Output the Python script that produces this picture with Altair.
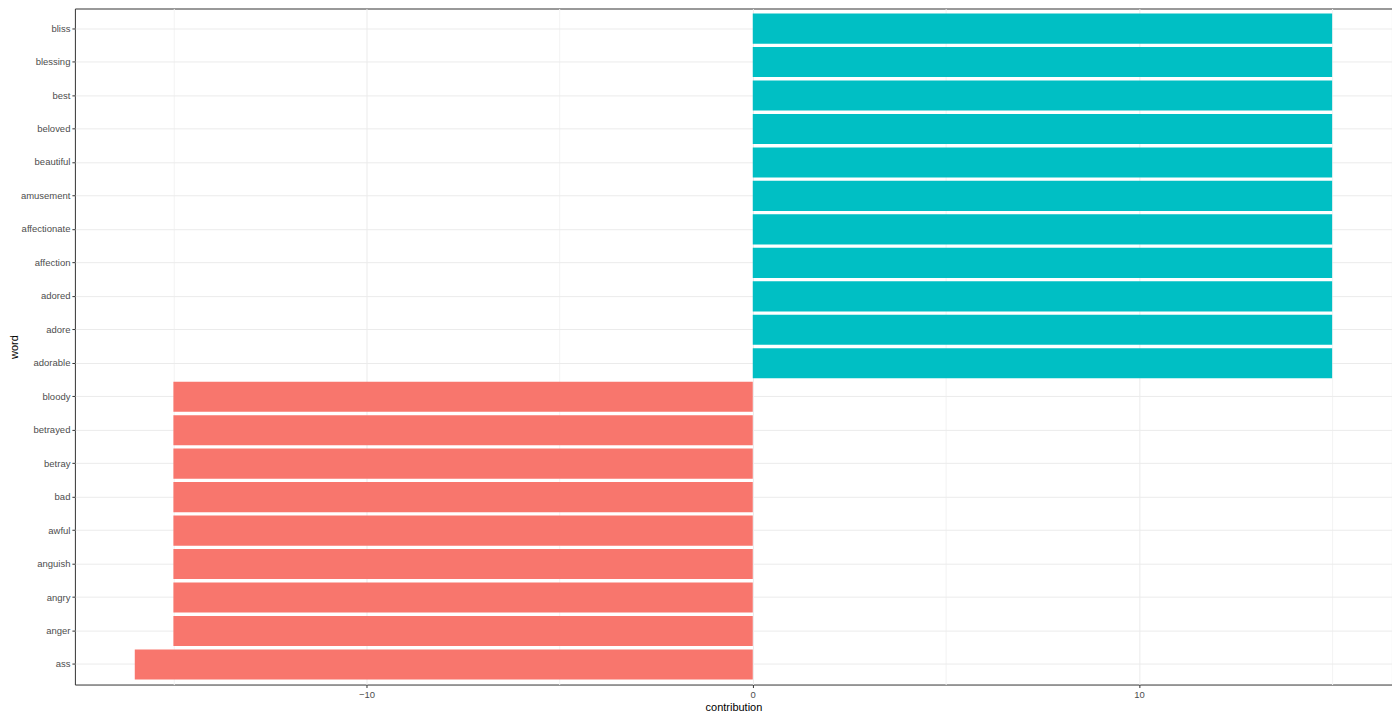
import altair as alt
import pandas

words = [
    "ass", "anger", "angry", "anguish", "awful", "bad", "betray", "betrayed", "bloody",
    "adorable", "adore", "adored", "affection", "affectionate", "amusement",
    "beautiful", "beloved", "best", "blessing", "bliss",
]
contribution = [-16, -15, -15, -15, -15, -15, -15, -15, -15,
                15, 15, 15, 15, 15, 15, 15, 15, 15, 15, 15]
sentiment = ["negative"] * 9 + ["positive"] * 11

x_ticks = [-15, -10, -5, 0, 5, 10, 15]

df = pandas.DataFrame({"word": words, "contribution": contribution, "sentiment": sentiment})

font = "Liberation Sans"

bars = (
    alt.Chart(df)
    .mark_bar()
    .encode(
        alt.X(
            "contribution:Q",
            scale=alt.Scale(domain=[-17.55, 16.55], nice=False, zero=False),
            axis=alt.Axis(
                values=x_ticks,
                labelExpr="datum.value % 10 === 0 ? datum.label : ''",
                gridColor={"condition": {"test": "datum.value % 10 === 0", "value": "#EBEBEB"}, "value": "#F3F3F3"},
                tickColor={"condition": {"test": "datum.value % 10 === 0", "value": "#333333"}, "value": "transparent"},
                title="contribution",
            ),
        ),
        alt.Y(
            "word:N",
            sort=list(reversed(words)),
            scale=alt.Scale(paddingInner=0.1, paddingOuter=0.15),
            axis=alt.Axis(bandPosition=0.5, gridColor="#EBEBEB", title="word"),
        ),
        alt.Color(
            "sentiment:N",
            scale=alt.Scale(domain=["negative", "positive"], range=["#F8766D", "#00BFC4"]),
            legend=None,
        ),
    )
)

chart = (
    bars.properties(
        width=1319,
        height=677,
        autosize=alt.AutoSizeParams(type="none"),
        padding={"left": 67, "top": 0, "right": 0, "bottom": 30},
    )
    .configure_view(stroke="#333333", strokeWidth=1)
    .configure_axis(
        labelFont=font,
        labelFontSize=9.5,
        labelColor="#4D4D4D",
        titleFont=font,
        titleFontSize=11,
        titleFontWeight="normal",
        titleColor="#000000",
        domain=False,
        tickSize=3,
        tickColor="#333333",
        labelPadding=2,
        grid=True,
        gridWidth=1,
    )
    .configure_axisY(titlePadding=1)
    .configure_axisX(titlePadding=3)
)

chart.save("out.html", embed_options={"renderer": "svg", "actions": False})
